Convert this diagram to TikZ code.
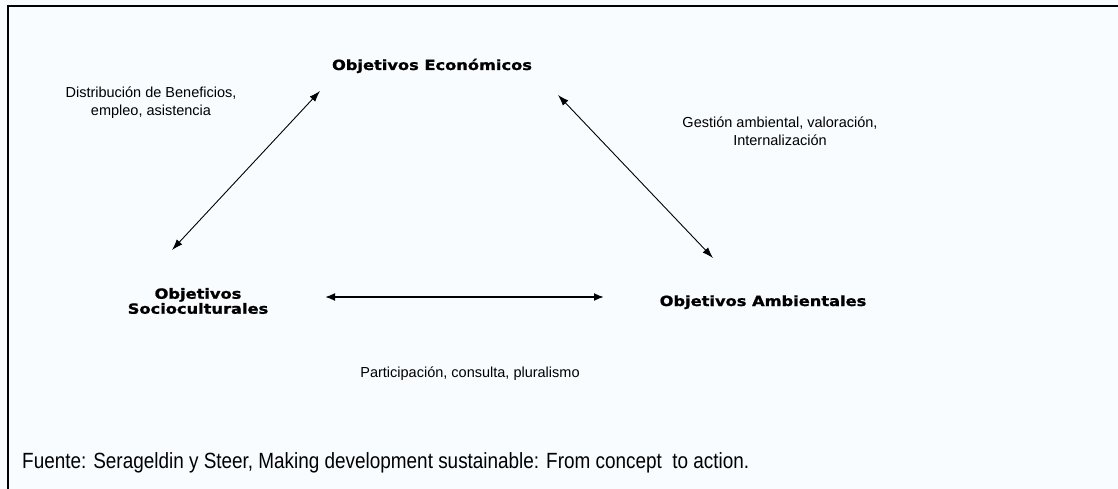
\documentclass[tikz,border=0pt]{standalone}
\usepackage{fontspec}
\setmainfont{Liberation Sans}
\newfontfamily\boldlab{DejaVu Sans Bold}[FakeStretch=1.16,FakeBold=1.2]
\newfontfamily\footfont{Liberation Sans}[FakeStretch=0.86]
\usetikzlibrary{arrows.meta}
\definecolor{bgc}{RGB}{248,252,255}
\tikzset{
  mainlab/.style={font=\boldlab\fontsize{14}{15}\selectfont, align=center, inner sep=0pt},
  sublab/.style={font=\fontsize{14.5}{18}\selectfont, align=center, inner sep=0pt},
  link/.style={line width=0.9pt, {Latex[length=11pt,width=7.5pt]}-{Latex[length=11pt,width=7.5pt]}},
  hlink/.style={line width=1.8pt, {Latex[length=10pt,width=8pt]}-{Latex[length=10pt,width=8pt]}},
}
\begin{document}
\begin{tikzpicture}[x=1pt,y=-1pt]
\fill[bgc] (0,0) rectangle (1118,489);
\useasboundingbox (0,0) rectangle (1118,489);
\draw[line width=2pt] (1118,6) -- (8,6) -- (8,489);
% main nodes
\node[mainlab, anchor=base] (eco) at (432,70) {Objetivos Económicos};
\node[mainlab] (soc) at (198,301) {Objetivos\\Socioculturales};
\node[mainlab, anchor=base] (amb) at (763,306) {Objetivos Ambientales};
% labels
\node[sublab] (l1) at (151,103) {Distribución de Beneficios,\\empleo, asistencia};
\node[sublab] (l2) at (780,131) {Gestión ambiental, valoración,\\Internalización};
\node[sublab] (l3) at (470,374) {Participación, consulta, pluralismo};
\node[anchor=base west, inner sep=0pt, font=\footfont\fontsize{22}{24}\selectfont] (src) at (22,468) {Fuente: Serageldin y Steer, Making development sustainable: From concept \ to action.};
% connector ends
\coordinate (a1) at (172,250);
\coordinate (a2) at (320,91);
\coordinate (b1) at (558,95);
\coordinate (b2) at (713,258);
\coordinate (c1) at (325,297);
\coordinate (c2) at (604,297);
\draw[link] (a1) -- (a2);
\draw[link] (b1) -- (b2);
\draw[hlink] (c1) -- (c2);
\end{tikzpicture}
\end{document}
